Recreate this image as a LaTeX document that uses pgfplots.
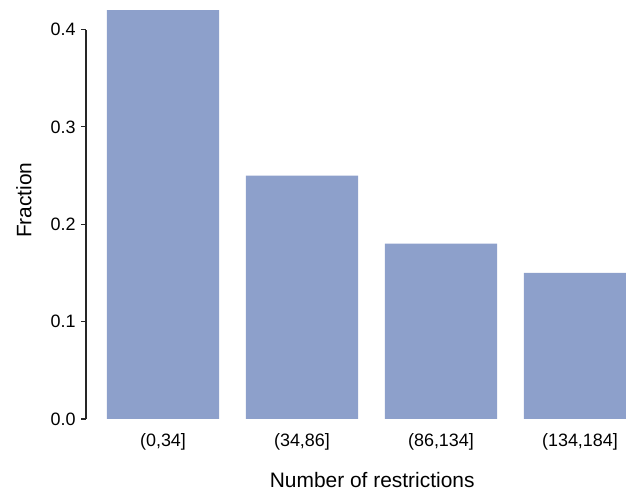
\documentclass[border=0pt]{standalone}
\usepackage{fontspec}
\setmainfont{Liberation Sans}
\usepackage{pgfplots}
\pgfplotsset{compat=1.18}
\definecolor{barblue}{HTML}{8DA0CB}

\begin{document}
\begin{tikzpicture}[x=1bp,y=1bp]
\begin{axis}[
  at={(86bp,72bp)}, anchor=south west,
  scale only axis,
  width=540bp, height=409bp,
  xmin=-0.554, xmax=3.331,
  ymin=0, ymax=0.42,
  axis y line*=left,
  axis x line*=bottom,
  x axis line style={draw=none},
  y axis line style={line width=1.1pt, color=black!85, shorten >=19.5bp},
  xtick=data,
  xticklabels={{(0,34]},{(34,86]},{(86,134]},{(134,184]}},
  xtick style={draw=none},
  ytick={0,0.1,0.2,0.3,0.4},
  yticklabels={0.0,0.1,0.2,0.3,0.4},
  tick align=outside,
  major tick length=5bp,
  ytick style={line width=1.1pt, black!85},
  ticklabel style={font=\fontsize{18}{21}\selectfont},
  yticklabel style={anchor=east, xshift=-2bp},
  xticklabel style={anchor=base, yshift=-22bp},
  /pgf/number format/assume math mode=true,
  xlabel={Number of restrictions},
  ylabel={Fraction},
  label style={font=\fontsize{21}{24}\selectfont},
  xlabel style={at={(axis description cs:0.53,0)}, anchor=base, yshift=-68bp},
  ylabel style={at={(axis description cs:-0.1148,0.535)}, anchor=center},
  ybar, bar width=0.806,
  clip=true,
]
\addplot[fill=barblue, draw=none] coordinates {(0,0.42) (1,0.25) (2,0.18) (3,0.15)};
\end{axis}
\pgfresetboundingbox
\path[use as bounding box] (0,0) rectangle (626bp,491bp);
\end{tikzpicture}
\end{document}
